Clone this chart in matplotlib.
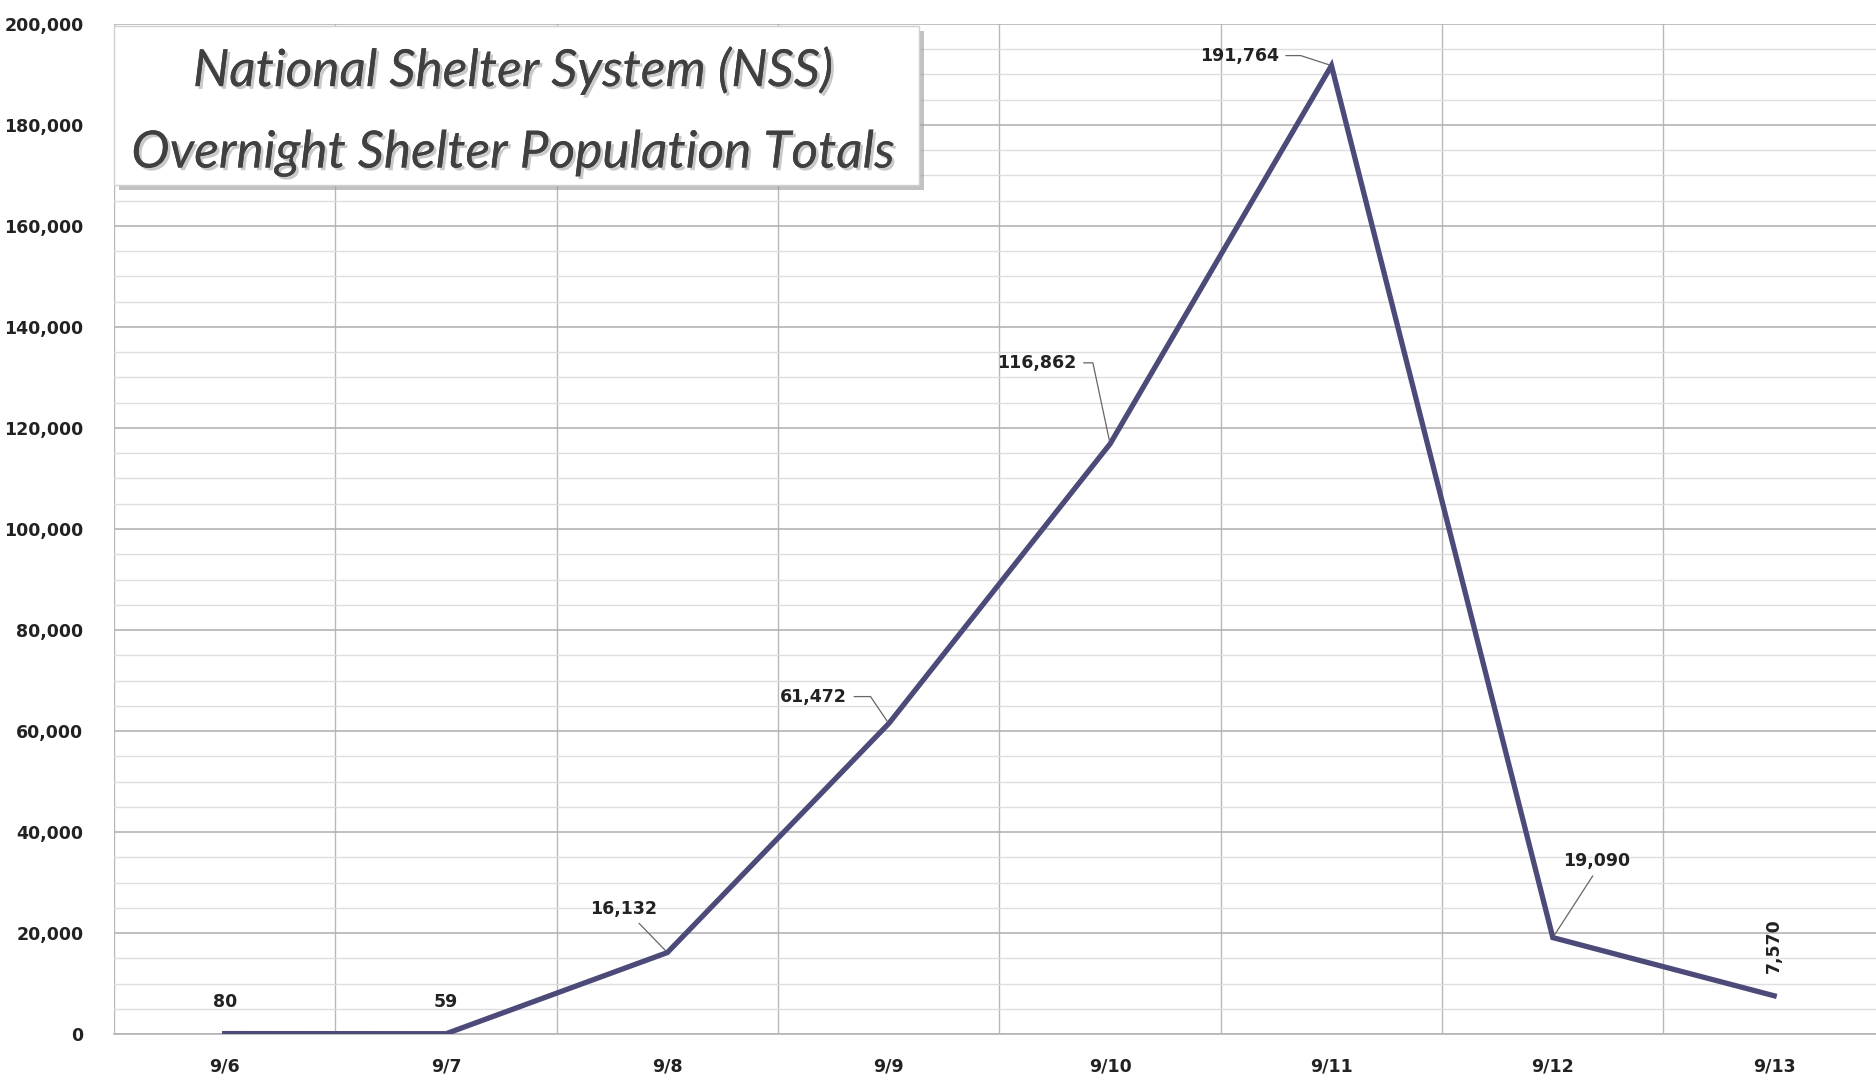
import matplotlib
matplotlib.use("Agg")
import matplotlib.pyplot as plt
from matplotlib.patches import Rectangle
from matplotlib.ticker import MultipleLocator, FuncFormatter
import matplotlib.patheffects as pe

dates = ["9/6", "9/7", "9/8", "9/9", "9/10", "9/11", "9/12", "9/13"]
population = [80, 59, 16132, 61472, 116862, 191764, 19090, 7570]
title_lines = ["National Shelter System (NSS)", "Overnight Shelter Population Totals"]

W, H = 1876, 1074
fig = plt.figure(figsize=(W / 100, H / 100), dpi=100)
fig.patch.set_facecolor("white")
ax = fig.add_axes([114 / W, 1 - 1034 / H, 1 - 114 / W, (1034 - 24) / H])

x = list(range(len(dates)))
line_color = "#4B4A78"
ax.plot(x, population, color=line_color, lw=3.8, solid_joinstyle="miter", zorder=3)

ax.set_xlim(-0.5, 7.46)
ax.set_ylim(0, 200000)
ax.yaxis.set_major_locator(MultipleLocator(20000))
ax.yaxis.set_minor_locator(MultipleLocator(5000))
ax.yaxis.set_major_formatter(FuncFormatter(lambda v, p: f"{v:,.0f}"))
ax.set_xticks(x)
ax.set_xticklabels(dates)
ax.set_xticks([i + 0.5 for i in range(-1, len(dates) - 1)], minor=True)

ax.grid(which="major", axis="y", color="#b4b4b4", lw=1.2)
ax.grid(which="minor", axis="y", color="#dedede", lw=1.0)
ax.grid(which="minor", axis="x", color="#b8b8b8", lw=1.0)
ax.set_axisbelow(True)
for s in ["top", "right", "left"]:
    ax.spines[s].set_visible(False)
ax.spines["bottom"].set_color("#b4b4b4")
ax.spines["bottom"].set_linewidth(1.2)
ax.tick_params(which="both", length=0)
ax.tick_params(axis="y", pad=22)
ax.tick_params(axis="x", pad=17)
for lab in ax.get_xticklabels() + ax.get_yticklabels():
    lab.set_fontsize(12.5)
    lab.set_fontweight("bold")
    lab.set_color("#222222")
    lab.set_family("DejaVu Sans")

lbl_kw = dict(fontsize=12.5, fontweight="bold", color="#222222",
              ha="center", va="center", textcoords="offset pixels")
ann = [
    # (dx, dy, relpos, connectionstyle, rotation)
    (0, 32, None, None, 0),
    (0, 32, None, None, 0),
    (-44, 44, (0.65, 0.0), "arc3", 0),
    (-75, 27, (1.0, 0.5), "angle,angleA=0,angleB=124,rad=0", 0),
    (-73, 81, (1.0, 0.5), "angle,angleA=0,angleB=102,rad=0", 0),
    (-92, 10, (1.0, 0.5), "angle,angleA=0,angleB=162,rad=0", 0),
    (44, 77, (0.5, 0.0), "arc3", 0),
    (0, 50, None, None, 90),
]
for xi, yi, (dx, dy, rp, cs, rot) in zip(x, population, ann):
    kw = dict(lbl_kw)
    if rp is not None:
        kw["arrowprops"] = dict(arrowstyle="-", color="#666666", lw=0.9,
                                shrinkA=3, shrinkB=2, relpos=rp, connectionstyle=cs)
    ax.annotate(f"{yi:,}", xy=(xi, yi), xytext=(dx, dy), rotation=rot, zorder=5, **kw)

# Title box with shadow
bx0, bx1, by0, by1 = 114, 919, 26, 185
shadow = Rectangle(((bx0 + 5) / W, 1 - (by1 + 5) / H), (bx1 - bx0) / W, (by1 - by0) / H,
                   transform=fig.transFigure, facecolor="#9a9a9a", edgecolor="none",
                   alpha=0.6, zorder=8)
box = Rectangle((bx0 / W, 1 - by1 / H), (bx1 - bx0) / W, (by1 - by0) / H,
                transform=fig.transFigure, facecolor="white", edgecolor="#d0d0d0",
                lw=1.0, zorder=9)
fig.add_artist(shadow)
fig.add_artist(box)
shadow_fx = [pe.withSimplePatchShadow(offset=(2, -2), shadow_rgbFace="#888888", alpha=0.45), pe.Normal()]
for ty, t in zip([71, 154], title_lines):
    fig.text(513 / W, 1 - ty / H, t, ha="center", va="center", fontsize=37,
             style="italic", family="Lato", color="#404040", zorder=10,
             path_effects=shadow_fx)

fig.savefig("out.png", dpi=100)
